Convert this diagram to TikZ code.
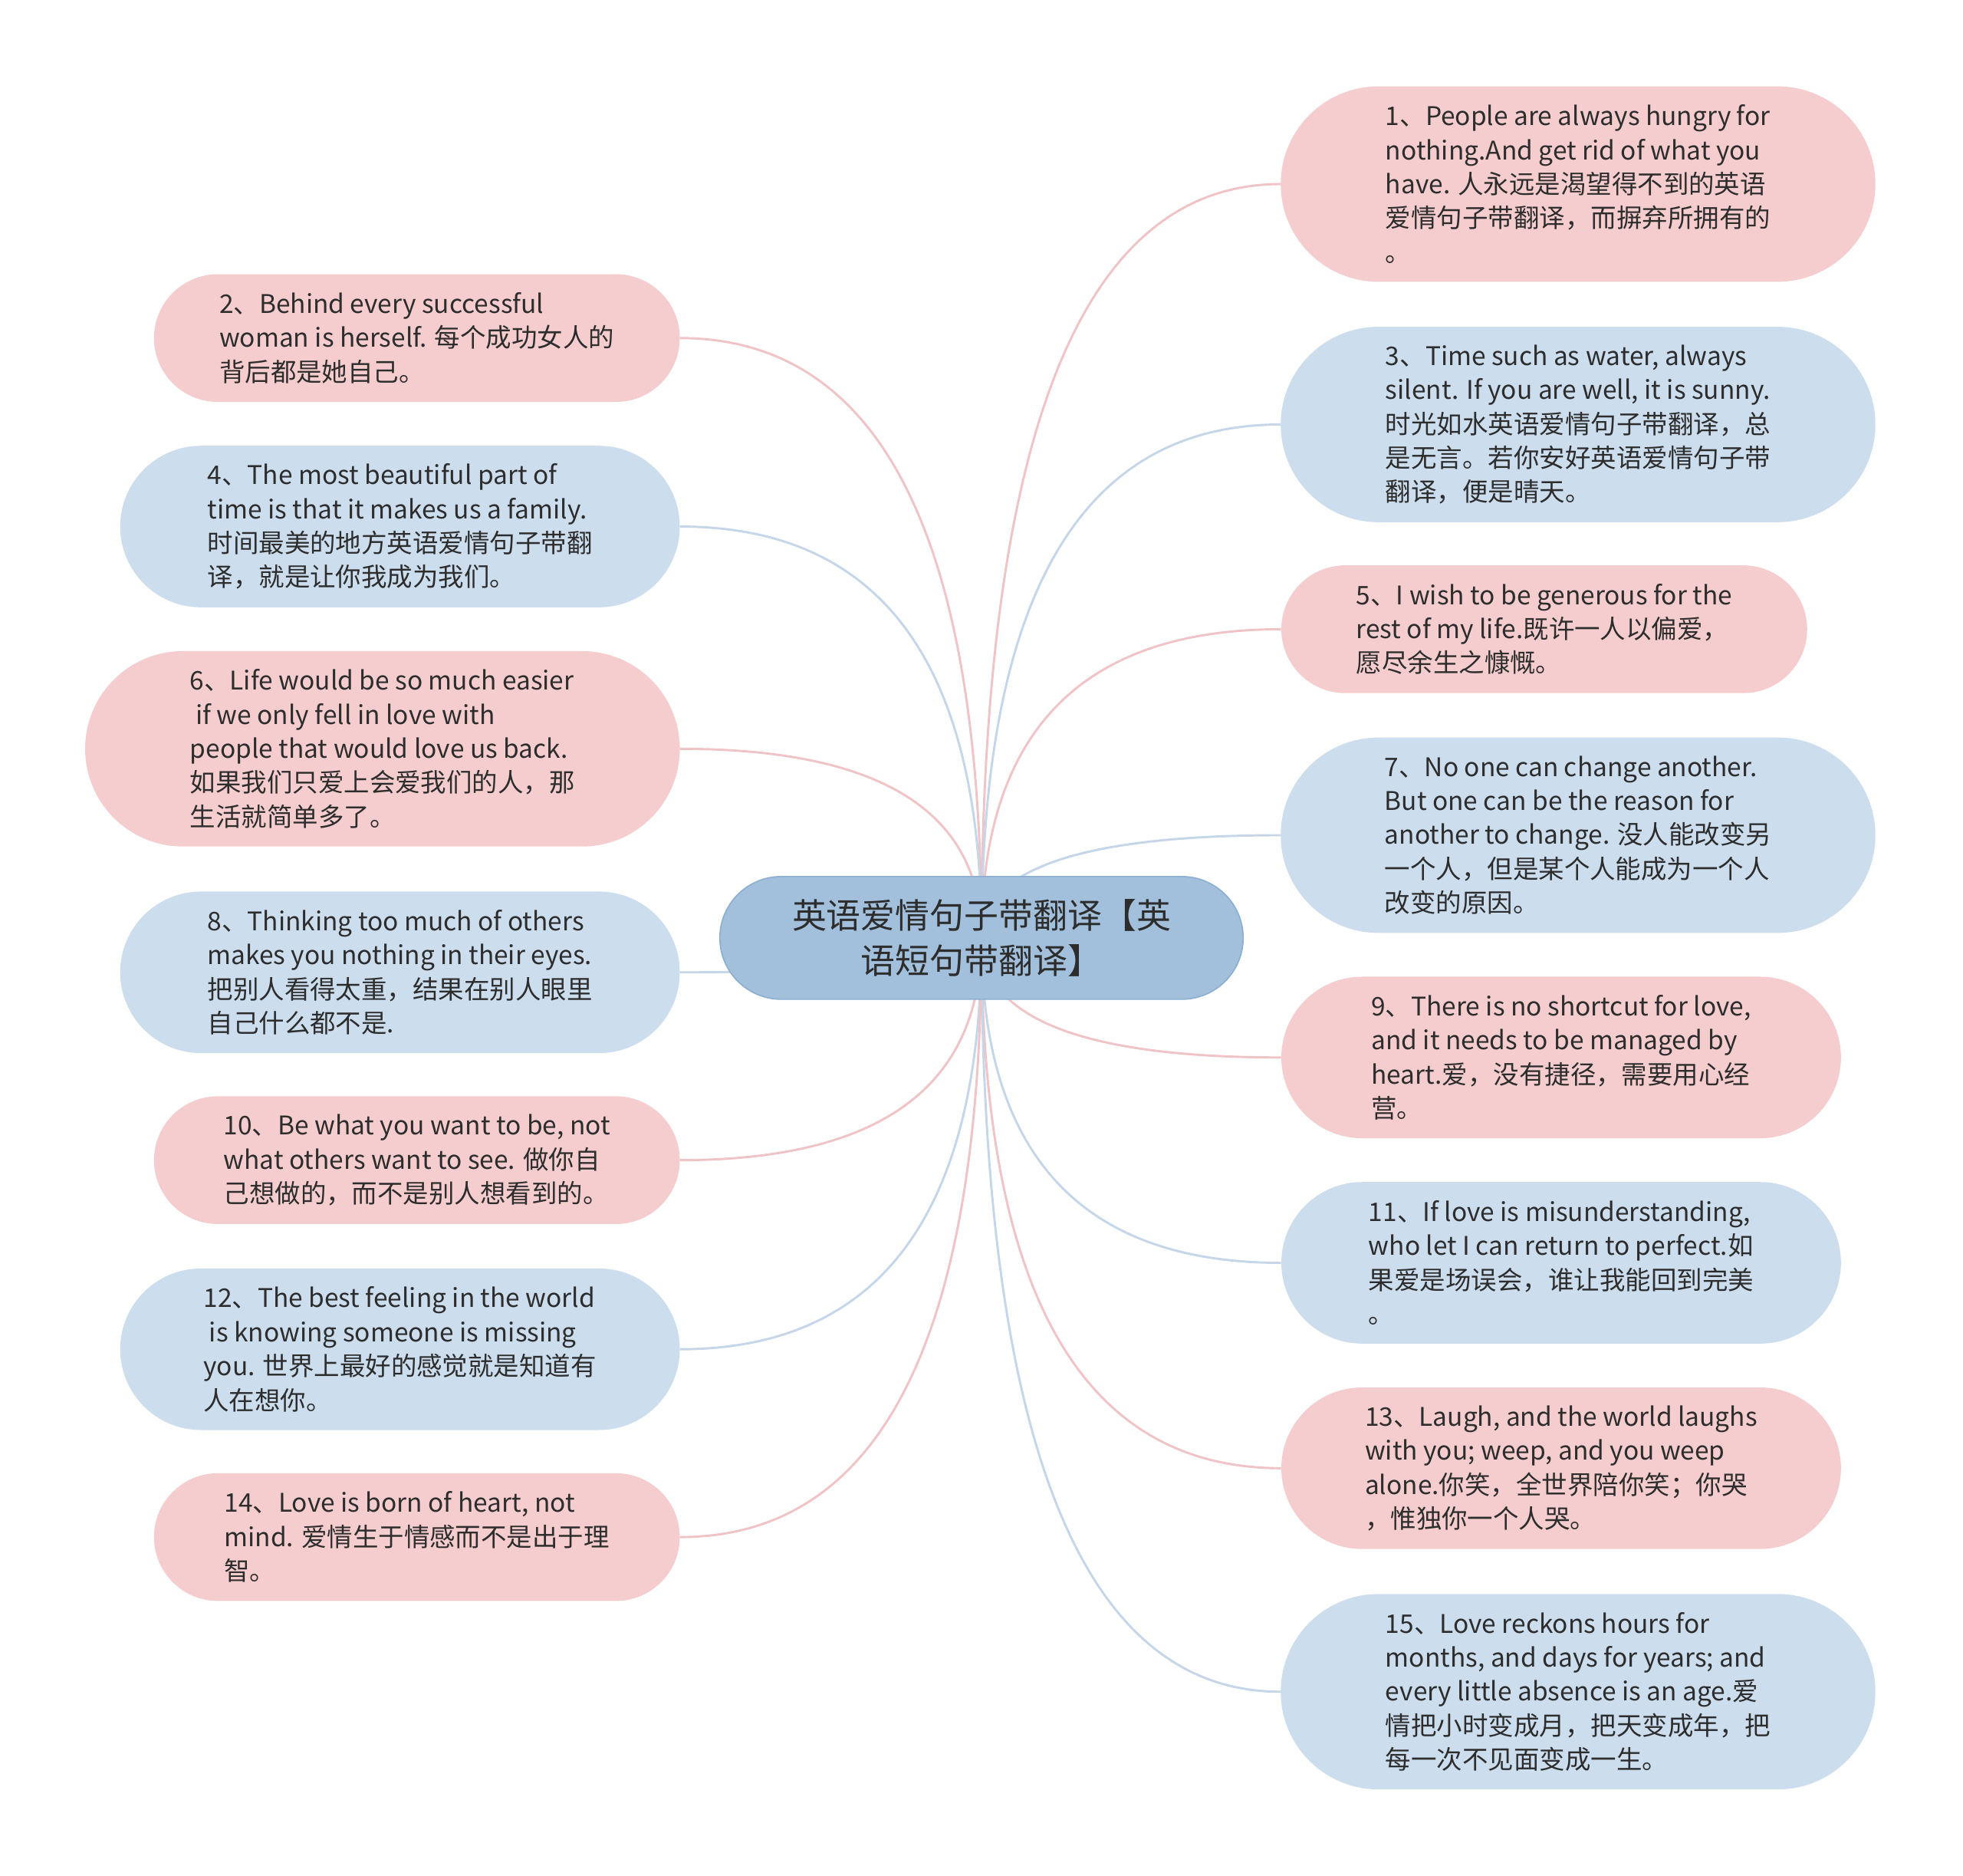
\documentclass[tikz,border=0pt]{standalone}
\usepackage{fontspec}
\setmainfont{Noto Sans CJK SC}
\usepackage{xcolor}
\definecolor{rootfill}{RGB}{162,192,220}
\definecolor{rootdraw}{RGB}{140,174,208}
\definecolor{pinkfill}{RGB}{245,205,206}
\definecolor{bluefill}{RGB}{204,221,237}
\definecolor{pinkline}{RGB}{240,196,198}
\definecolor{blueline}{RGB}{196,214,232}
\definecolor{textgray}{RGB}{45,45,45}
\usetikzlibrary{calc,backgrounds}

\begin{document}
\begin{tikzpicture}[x=1pt, y=-1pt,
  root/.style={fill=rootfill, draw=rootdraw, line width=1pt, minimum width=418pt, minimum height=98pt, rounded corners=49pt, align=center, text=textgray, font=\fontsize{27.5}{36}\selectfont},
  leaf/.style={align=left, text=textgray, inner sep=0pt, font=\fontsize{20.5}{27.2}\selectfont},
  pinkleaf/.style={leaf, fill=pinkfill},
  blueleaf/.style={leaf, fill=bluefill},
  lthree/.style={minimum width=420pt, minimum height=102pt, rounded corners=51pt},
  lfour/.style={minimum width=447pt, minimum height=129pt, rounded corners=64.5pt},
  lfive/.style={minimum width=475pt, minimum height=156pt, rounded corners=78pt},
  link/.style={line width=1.8pt}]
  \useasboundingbox (0,0) rectangle (1568,1498);

  %% Center topic
  \node[root] (root) at (784,749) {英语爱情句子带翻译【英\\语短句带翻译】};

  %% Right branches
  \node[pinkleaf, lfive] (n1) at (1260.5,147) {1、People are always hungry for\\nothing.And get rid of what you\\have. 人永远是渴望得不到的英语\\爱情句子带翻译，而摒弃所拥有的\\。};

  \node[blueleaf, lfive] (n3) at (1260.5,339) {3、Time such as water, always\\silent. If you are well, it is sunny.\\时光如水英语爱情句子带翻译，总\\是无言。若你安好英语爱情句子带\\翻译，便是晴天。};

  \node[pinkleaf, lthree] (n5) at (1233.5,502.5) {5、I wish to be generous for the\\rest of my life.既许一人以偏爱，\\愿尽余生之慷慨。};

  \node[blueleaf, lfive] (n7) at (1260.5,667) {7、No one can change another.\\But one can be the reason for\\another to change. 没人能改变另\\一个人，但是某个人能成为一个人\\改变的原因。};

  \node[pinkleaf, lfour] (n9) at (1247,844.5) {9、There is no shortcut for love,\\and it needs to be managed by\\heart.爱，没有捷径，需要用心经\\营。};

  \node[blueleaf, lfour] (n11) at (1247,1008.5) {11、If love is misunderstanding,\\who let I can return to perfect.如\\果爱是场误会，谁让我能回到完美\\。};

  \node[pinkleaf, lfour] (n13) at (1247,1172.5) {13、Laugh, and the world laughs\\with you; weep, and you weep\\alone.你笑，全世界陪你笑；你哭\\，惟独你一个人哭。};

  \node[blueleaf, lfive] (n15) at (1260.5,1351) {15、Love reckons hours for\\months, and days for years; and\\every little absence is an age.爱\\情把小时变成月，把天变成年，把\\每一次不见面变成一生。};

  %% Left branches
  \node[pinkleaf, lthree] (n2) at (333,270) {2、Behind every successful\\woman is herself. 每个成功女人的\\背后都是她自己。};

  \node[blueleaf, lfour] (n4) at (319.5,420.5) {4、The most beautiful part of\\time is that it makes us a family.\\时间最美的地方英语爱情句子带翻\\译，就是让你我成为我们。};

  \node[pinkleaf, lfive] (n6) at (305.5,598) {6、Life would be so much easier\\\ if we only fell in love with\\people that would love us back.\\如果我们只爱上会爱我们的人，那\\生活就简单多了。};

  \node[blueleaf, lfour] (n8) at (319.5,776.5) {8、Thinking too much of others\\makes you nothing in their eyes.\\把别人看得太重，结果在别人眼里\\自己什么都不是.};

  \node[pinkleaf, lthree] (n10) at (333,926.5) {10、Be what you want to be, not\\what others want to see. 做你自\\己想做的，而不是别人想看到的。};

  \node[blueleaf, lfour] (n12) at (319.5,1077.5) {12、The best feeling in the world\\\ is knowing someone is missing\\you. 世界上最好的感觉就是知道有\\人在想你。};

  \node[pinkleaf, lthree] (n14) at (333,1227.5) {14、Love is born of heart, not\\mind. 爱情生于情感而不是出于理\\智。};

  %% Branch curves, behind the nodes
  \begin{scope}[on background layer]
    \foreach \tip/\col in {n1.west/pinkline, n3.west/blueline, n5.west/pinkline, n7.west/blueline,
        n9.west/pinkline, n11.west/blueline, n13.west/pinkline, n15.west/blueline,
        n2.east/pinkline, n4.east/blueline, n6.east/pinkline, n8.east/blueline,
        n10.east/pinkline, n12.east/blueline, n14.east/pinkline}
      \draw[link, \col] (root.center) .. controls ($(root.center)!0.667!(root.center |- \tip)$) and ($(\tip)!0.667!(root.center |- \tip)$) .. (\tip);
  \end{scope}
\end{tikzpicture}
\end{document}
